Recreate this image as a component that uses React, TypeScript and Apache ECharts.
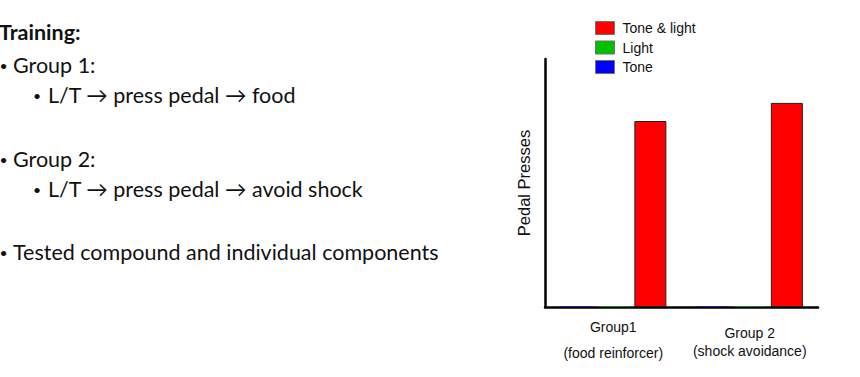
import React, { useEffect, useRef } from "react";
import * as echarts from "echarts";

const categories = ["Group1", "Group 2"];
const subtitles = ["(food reinforcer)", "(shock avoidance)"];
const seriesNames = ["Tone", "Light", "Tone & light"];
const toneValues = [0.4, 0.4];
const lightValues = [0.4, 0.4];
const toneLightValues = [75, 82.3];
const legendOrder = ["Tone & light", "Light", "Tone"];
const colors = ["#0000ff", "#00c000", "#ff0000"];
const edgeColors = ["#2020a0", "#208020", "#202020"];

const bulletLines = [
  { level: 0, text: "Training:", bold: true, y: 32 },
  { level: 1, text: "Group 1:", y: 65.5 },
  { level: 2, text: "L/T \u2192 press pedal \u2192 food", y: 95 },
  { level: 1, text: "Group 2:", y: 159 },
  { level: 2, text: "L/T \u2192 press pedal \u2192 avoid shock", y: 189 },
  { level: 1, text: "Tested compound and individual components", y: 252.5 },
];

export default function App() {
  const ref = useRef<HTMLDivElement>(null);
  useEffect(() => {
    if (!ref.current) return;
    const chart = echarts.init(ref.current, null, { renderer: "svg" });
    const values = [toneValues, lightValues, toneLightValues];
    const textFont = "Lato, 'Open Sans', sans-serif";
    const axisFont = "'Liberation Sans', Arial, sans-serif";
    const graphics: any[] = [];
    bulletLines.forEach((l) => {
      const textX = l.level === 0 ? -1 : l.level === 1 ? 13 : 48;
      if (l.level > 0) {
        graphics.push({
          type: "text",
          x: l.level === 1 ? 3.5 : 37,
          y: l.y,
          style: {
            text: "\u2022",
            font: `14px ${textFont}`,
            fill: "#111",
            align: "center",
            verticalAlign: "middle",
          },
        });
      }
      graphics.push({
        type: "text",
        x: textX,
        y: l.y - 0.5,
        style: {
          text: l.text,
          font: `${l.bold ? "bold " : ""}21.5px ${textFont}`,
          fill: "#111",
          align: "left",
          verticalAlign: "middle",
        },
      });
    });
    chart.setOption({
      animation: false,
      grid: { left: 545, right: 42, top: 59, bottom: 70 },
      legend: {
        data: legendOrder,
        orient: "vertical",
        left: 595,
        top: 21,
        padding: 0,
        itemWidth: 19,
        itemHeight: 13,
        itemGap: 5.5,
        icon: "rect",
        itemStyle: { borderColor: "#707070", borderWidth: 1 },
        textStyle: { fontSize: 14, fontFamily: axisFont, color: "#111", padding: [0, 0, 0, 3] },
      },
      xAxis: {
        type: "category",
        data: categories,
        axisLine: { lineStyle: { color: "#000", width: 2.5 } },
        axisTick: { show: false },
        axisLabel: {
          interval: 0,
          hideOverlap: false,
          margin: 7,
          fontFamily: axisFont,
          formatter: (v: string, i: number) =>
            i === 0
              ? `{a|${v}}\n{b|${subtitles[i]}}`
              : `{s| }\n{c|${v}}\n{d|${subtitles[i]}}`,
          rich: {
            a: { fontSize: 14, lineHeight: 26, color: "#111", fontFamily: axisFont },
            b: { fontSize: 14, lineHeight: 26, color: "#111", fontFamily: axisFont },
            s: { fontSize: 2, lineHeight: 10, color: "#fff", fontFamily: axisFont },
            c: { fontSize: 14, lineHeight: 18, color: "#111", fontFamily: axisFont },
            d: { fontSize: 14, lineHeight: 18, color: "#111", fontFamily: axisFont },
          },
        },
      },
      yAxis: {
        type: "value",
        min: 0,
        max: 100,
        name: "Pedal Presses",
        nameLocation: "middle",
        nameGap: 13,
        nameTextStyle: { fontSize: 16.5, fontFamily: axisFont, color: "#111" },
        axisLine: { show: true, lineStyle: { color: "#000", width: 2.5 } },
        axisTick: { show: false },
        axisLabel: { show: false },
        splitLine: { show: false },
      },
      series: seriesNames.map((name, k) => ({
        name,
        type: "bar",
        data: values[k],
        barWidth: 32,
        barGap: "16%",
        itemStyle: { color: colors[k], borderColor: edgeColors[k], borderWidth: 1 },
      })),
      graphic: graphics,
    });
    return () => chart.dispose();
  }, []);
  return (
    <div
      ref={ref}
      style={{ position: "fixed", left: 0, top: 0, width: 860, height: 377, background: "#fff" }}
    />
  );
}
